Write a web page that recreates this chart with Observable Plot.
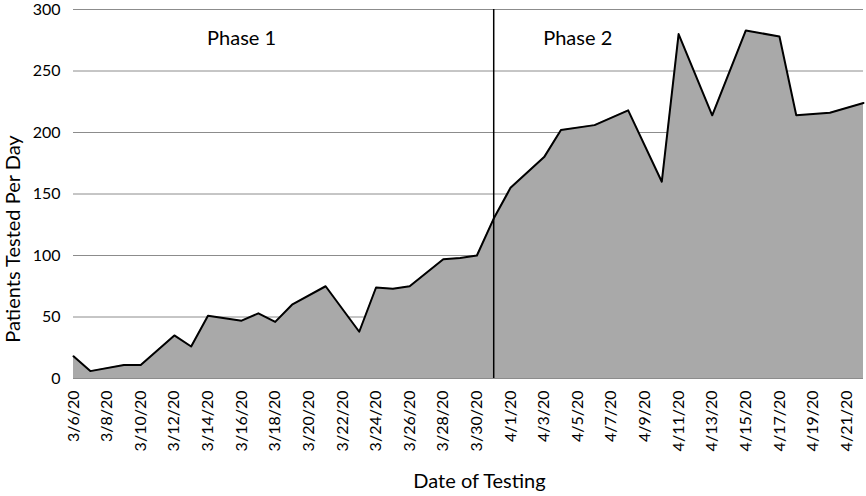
<!DOCTYPE html>
<html>
<head>
<meta charset="utf-8">
<script src="https://cdn.jsdelivr.net/npm/d3@7"></script>
<script src="https://cdn.jsdelivr.net/npm/@observablehq/plot@0.6"></script>
<style>
  html, body { margin: 0; padding: 0; background: #fff; }
</style>
</head>
<body>
<div id="chart"></div>
<script>
// Data
const dates = ["3/6/20","3/7/20","3/9/20","3/10/20","3/11/20","3/12/20","3/13/20","3/14/20",
  "3/16/20","3/17/20","3/18/20","3/19/20","3/21/20","3/23/20","3/24/20","3/25/20","3/26/20",
  "3/27/20","3/28/20","3/29/20","3/30/20","3/31/20","4/1/20","4/3/20","4/4/20","4/6/20",
  "4/8/20","4/10/20","4/11/20","4/13/20","4/15/20","4/17/20","4/18/20","4/20/20","4/22/20"];
const patients = [18,6,11,11,23,35,26,51,
  47,53,46,60,75,38,74,73,75,
  86,97,98,100,130,155,180,202,206,
  218,160,280,214,283,278,214,216,224];

const tickLabels = ["3/6/20","3/8/20","3/10/20","3/12/20","3/14/20","3/16/20","3/18/20",
  "3/20/20","3/22/20","3/24/20","3/26/20","3/28/20","3/30/20","4/1/20","4/3/20","4/5/20",
  "4/7/20","4/9/20","4/11/20","4/13/20","4/15/20","4/17/20","4/19/20","4/21/20"];
const yTicks = [0, 50, 100, 150, 200, 250, 300];

const phaseDivider = "3/31/20";
const phaseNames = ["Phase 1", "Phase 2"];
const phaseDates = ["3/16/20", "4/5/20"];
const phaseLevel = [276, 276];

const domainStart = "3/6/20";
const domainEnd = "4/22/20";

function parse(s) {
  const [m, d, y] = s.split("/").map(Number);
  return new Date(Date.UTC(2000 + y, m - 1, d));
}

const data = dates.map((d, i) => ({date: parse(d), value: patients[i]}));
const tickDates = tickLabels.map(parse);
const labelByTime = new Map(tickLabels.map(s => [+parse(s), s]));
const phases = phaseNames.map((n, i) => ({name: n, date: parse(phaseDates[i]), y: phaseLevel[i]}));

const chart = Plot.plot({
  width: 866,
  height: 496,
  marginLeft: 73,
  marginRight: 3,
  marginTop: 9,
  marginBottom: 118,
  style: {fontFamily: "Lato, 'Open Sans', sans-serif", background: "#fff", color: "#000"},
  x: {type: "utc", domain: [parse(domainStart), parse(domainEnd)]},
  y: {domain: [0, 300]},
  marks: [
    Plot.gridY(yTicks, {stroke: "#8c8c8c", strokeOpacity: 1, strokeWidth: 1}),
    Plot.areaY(data, {x: "date", y: "value", fill: "#a9a9a9"}),
    Plot.lineY(data, {x: "date", y: "value", stroke: "#000", strokeWidth: 2}),
    Plot.ruleX([parse(phaseDivider)], {y1: 0, y2: 300, stroke: "#000", strokeWidth: 1.5}),
    Plot.text(phases, {x: "date", y: "y", text: "name", fontSize: 20, fill: "#000"}),
    Plot.axisY({ticks: yTicks, tickSize: 0, tickPadding: 13, fontSize: 16, label: null}),
    Plot.axisX({ticks: tickDates, tickFormat: d => labelByTime.get(+d), tickRotate: -90,
      tickSize: 0, tickPadding: 12, fontSize: 16, label: null}),
    Plot.text(["Patients Tested Per Day"], {frameAnchor: "left", textAnchor: "middle", lineAnchor: "middle",
      dx: -60, dy: 45, rotate: -90, fontSize: 20, fill: "#000"}),
    Plot.text(["Date of Testing"], {frameAnchor: "bottom", lineAnchor: "middle", textAnchor: "middle",
      dy: 103, dx: 11, fontSize: 20, fill: "#000"})
  ]
});
document.getElementById("chart").appendChild(chart);
</script>
</body>
</html>
